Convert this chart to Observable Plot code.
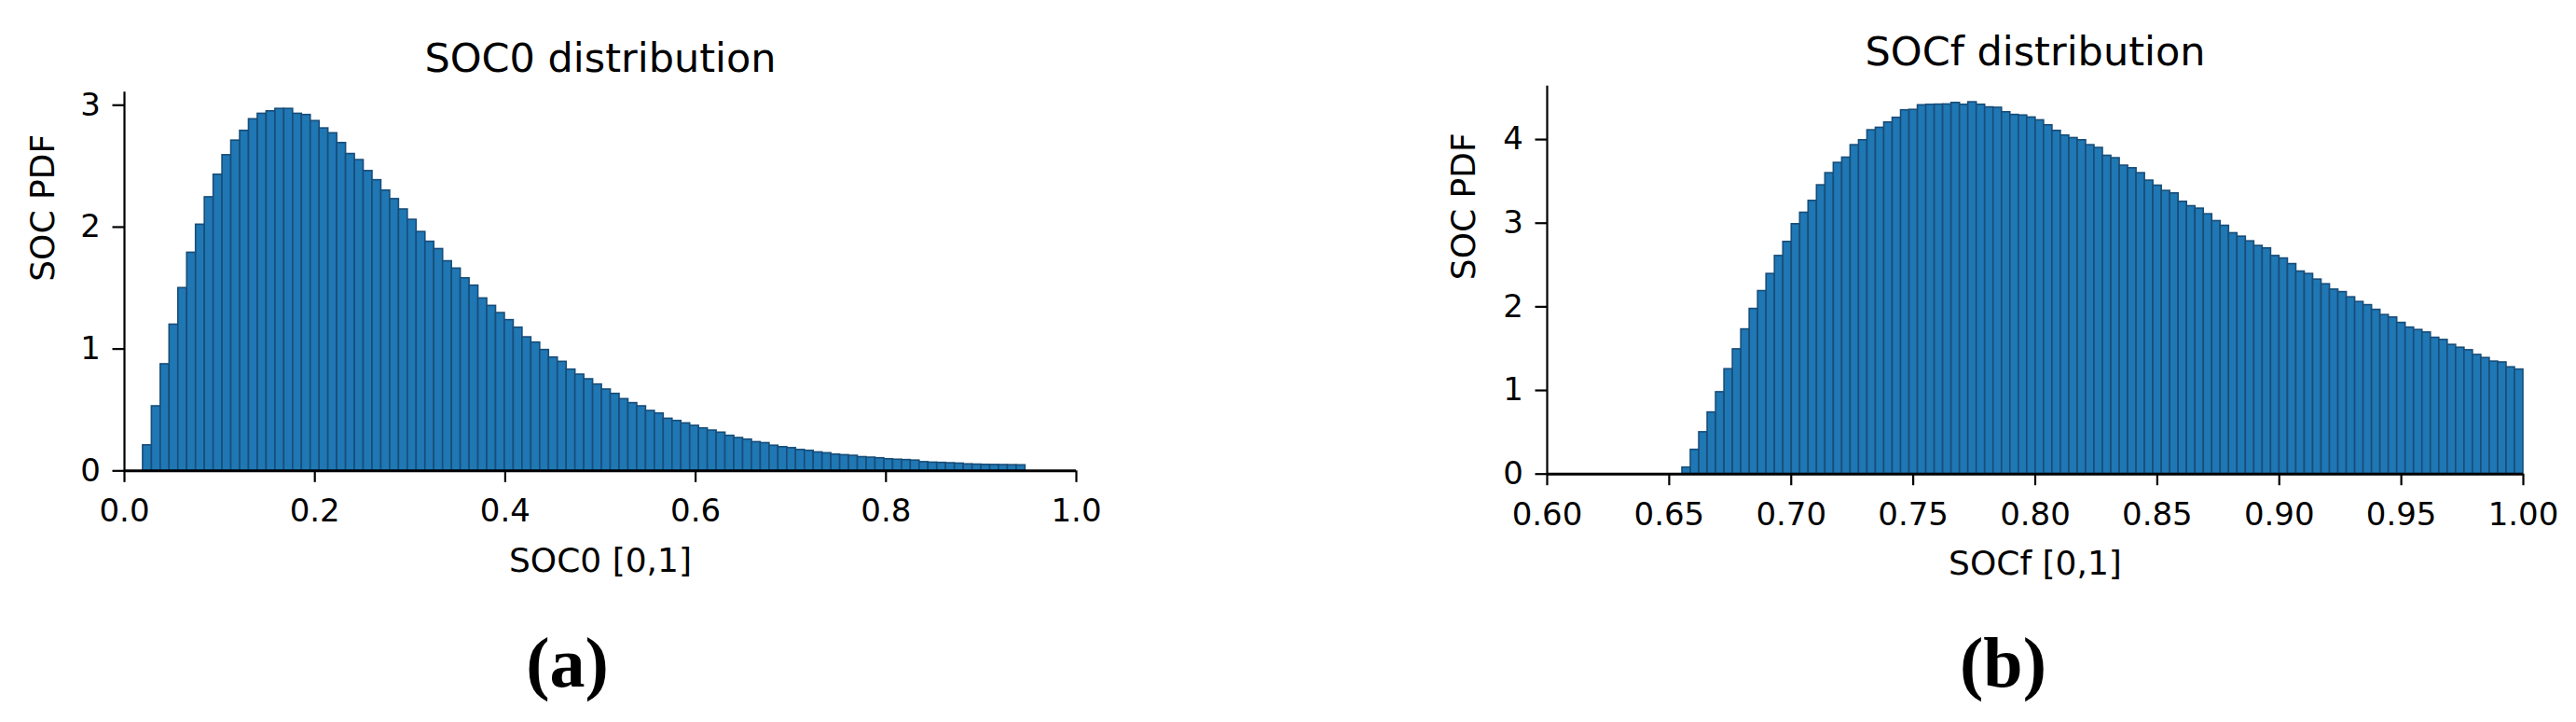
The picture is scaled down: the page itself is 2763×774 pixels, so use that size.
<!DOCTYPE html>
<html>
<head>
<meta charset="utf-8">
<script src="https://cdn.jsdelivr.net/npm/d3@7"></script>
<script src="https://cdn.jsdelivr.net/npm/@observablehq/plot@0.6"></script>
<style>
  html, body { margin: 0; padding: 0; background: #fff; }
  #wrap { position: relative; width: 2763px; height: 774px; overflow: hidden; background: #fff; }
  #wrap svg { position: absolute; top: 0; }
</style>
</head>
<body>
<div id="wrap"></div>
<script>
// ---------- DATA ----------
// Panel (a): SOC0 histogram densities, 100 bins
const soc0Density = [
  0.21, 0.53, 0.875, 1.20, 1.50, 1.79, 2.02, 2.245, 2.43, 2.59,
  2.71, 2.79, 2.885, 2.93, 2.95, 2.97, 2.97, 2.93, 2.92, 2.87,
  2.81, 2.77, 2.69, 2.60, 2.55, 2.46, 2.385, 2.30, 2.23, 2.145,
  2.06, 1.96, 1.88, 1.82, 1.72, 1.66, 1.58, 1.52, 1.415, 1.354,
  1.295, 1.237, 1.175, 1.096, 1.053, 0.992, 0.930, 0.895, 0.831, 0.790,
  0.752, 0.709, 0.668, 0.632, 0.589, 0.556, 0.530, 0.492, 0.471, 0.428,
  0.410, 0.390, 0.370, 0.349, 0.331, 0.314, 0.288, 0.270, 0.257, 0.236,
  0.228, 0.207, 0.195, 0.187, 0.172, 0.165, 0.152, 0.145, 0.134, 0.129,
  0.124, 0.113, 0.109, 0.104, 0.096, 0.092, 0.089, 0.085, 0.072, 0.068,
  0.066, 0.063, 0.060, 0.054, 0.052, 0.050, 0.049, 0.048, 0.047, 0.046
];
const soc0BinRange = [0.0195, 0.9465];
const soc0XDomain = [0, 1];
const soc0YDomain = [0, 3.107];
const soc0XTicks = [0, 0.2, 0.4, 0.6, 0.8, 1.0];
const soc0YTicks = [0, 1, 2, 3];

// Panel (b): SOCf histogram densities, 100 bins
const socfDensity = [
  0.078, 0.29, 0.50, 0.737, 0.979, 1.254, 1.492, 1.730, 1.975, 2.188,
  2.393, 2.608, 2.776, 2.988, 3.125, 3.267, 3.453, 3.598, 3.721, 3.784,
  3.933, 3.992, 4.111, 4.141, 4.204, 4.26, 4.35, 4.355, 4.41, 4.415,
  4.418, 4.42, 4.438, 4.416, 4.446, 4.416, 4.385, 4.38, 4.327, 4.295,
  4.288, 4.264, 4.23, 4.171, 4.104, 4.048, 4.018, 3.992, 3.933, 3.90,
  3.806, 3.777, 3.688, 3.657, 3.598, 3.509, 3.449, 3.386, 3.356, 3.256,
  3.203, 3.174, 3.107, 3.025, 2.969, 2.88, 2.839, 2.783, 2.728, 2.698,
  2.608, 2.578, 2.511, 2.422, 2.393, 2.326, 2.27, 2.206, 2.176, 2.114,
  2.058, 2.02, 1.964, 1.902, 1.872, 1.808, 1.752, 1.723, 1.693, 1.63,
  1.604, 1.545, 1.511, 1.481, 1.425, 1.388, 1.345, 1.335, 1.277, 1.25
];
const socfBinRange = [0.6554, 1.0];
const socfXDomain = [0.6, 1.0];
const socfYDomain = [0, 4.64];
const socfXTicks = [0.60, 0.65, 0.70, 0.75, 0.80, 0.85, 0.90, 0.95, 1.00];
const socfYTicks = [0, 1, 2, 3, 4];

const titles = ["SOC0 distribution", "SOCf distribution"];
const xLabels = ["SOC0 [0,1]", "SOCf [0,1]"];
const yLabel = "SOC PDF";
const captions = ["(a)", "(b)"];

// ---------- DRAW ----------
function binRows(values, range) {
  const w = (range[1] - range[0]) / values.length;
  return values.map((v, i) => ({x1: range[0] + i * w, x2: range[0] + (i + 1) * w, y: v}));
}

function panel(o) {
  const font = "DejaVu Sans, sans-serif";
  return Plot.plot({
    width: o.width,
    height: 774,
    marginLeft: o.ml, marginRight: o.mr, marginTop: o.mt, marginBottom: o.mb,
    style: {fontFamily: font, fontSize: "34px", background: "transparent", overflow: "visible"},
    x: {domain: o.xDomain},
    y: {domain: o.yDomain},
    marks: [
      Plot.rectY(binRows(o.values, o.binRange), {
        x1: "x1", x2: "x2", y: "y",
        fill: "#1f77b4", stroke: "#184d78", strokeWidth: 1.6
      }),
      Plot.ruleY([o.yDomain[0]], {stroke: "#000", strokeWidth: 3}),
      Plot.ruleX([o.xDomain[0]], {stroke: "#000", strokeWidth: 2.2}),
      Plot.axisX({ticks: o.xTicks, tickFormat: d3.format(o.xFmt), tickSize: 12.5, tickPadding: 18,
        fontSize: 34, stroke: "#000", strokeWidth: 2.2, label: null, fill: "#000"}),
      Plot.axisY({ticks: o.yTicks, tickFormat: d3.format("d"), tickSize: 12.5, tickPadding: 13,
        fontSize: 34, stroke: "#000", strokeWidth: 2.2, label: null, fill: "#000"}),
      Plot.text([o.title], {frameAnchor: "top", lineAnchor: "bottom", dy: -22,
        fontSize: 43, fill: "#000", fontFamily: font}),
      Plot.text([o.xLabel], {frameAnchor: "bottom", lineAnchor: "bottom", dy: o.xLabelDy,
        fontSize: 36, fill: "#000", fontFamily: font}),
      Plot.text([yLabel], {frameAnchor: "left", rotate: -90, lineAnchor: "middle", dx: o.yLabelDx,
        fontSize: 36, fill: "#000", fontFamily: font}),
      Plot.text([o.caption], {frameAnchor: "bottom", lineAnchor: "bottom", dx: o.capDx, dy: o.capDy,
        fontSize: 76, fontWeight: "bold", fill: "#000", fontFamily: "Liberation Serif, DejaVu Serif, serif"})
    ]
  });
}

const wrap = document.getElementById("wrap");

const left = panel({
  width: 1381, ml: 133, mr: 1381 - 1154, mt: 98.3, mb: 774 - 504.3,
  values: soc0Density, binRange: soc0BinRange,
  xDomain: soc0XDomain, yDomain: soc0YDomain, xTicks: soc0XTicks, yTicks: soc0YTicks, xFmt: ".1f",
  title: titles[0], xLabel: xLabels[0], caption: captions[0],
  xLabelDy: 612 - 504.3, yLabelDx: 46 - 133, capDx: 608 - 643.5, capDy: 735 - 504.3
});
left.style.left = "0px";
wrap.appendChild(left);

const right = panel({
  width: 1382, ml: 1659 - 1381, mr: 2763 - 2706, mt: 91.7, mb: 774 - 507.7,
  values: socfDensity, binRange: socfBinRange,
  xDomain: socfXDomain, yDomain: socfYDomain, xTicks: socfXTicks, yTicks: socfYTicks, xFmt: ".2f",
  title: titles[1], xLabel: xLabels[1], caption: captions[1],
  xLabelDy: 615 - 507.7, yLabelDx: 1570 - 1659, capDx: 2148 - 2182.5, capDy: 735 - 507.7
});
right.style.left = "1381px";
wrap.appendChild(right);
</script>
</body>
</html>
